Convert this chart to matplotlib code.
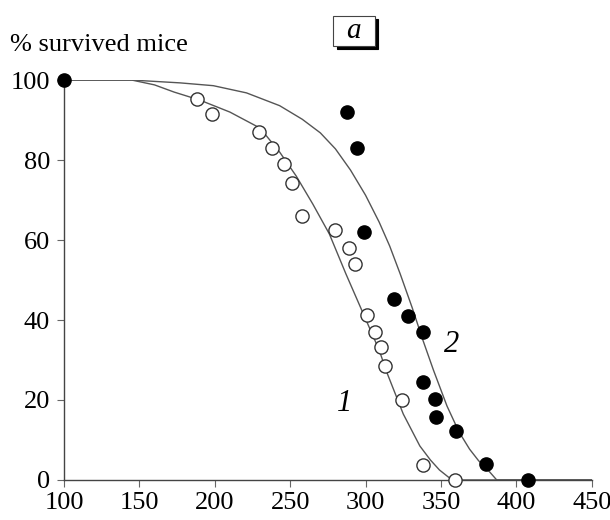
import matplotlib.pyplot as plt
from matplotlib.patches import Rectangle

plt.rcParams['font.family'] = 'Liberation Serif'

# open circles - curve 1
open_x = [188, 198, 229, 238, 246, 251, 258, 280, 289, 293, 301, 306, 310, 313, 324, 338, 359]
open_y = [95.3, 91.5, 87, 83, 79, 74.3, 66, 62.5, 58, 54, 41.3, 37, 33.3, 28.5, 20, 3.7, 0]

# filled circles - curve 2
filled_x = [100, 288, 294, 299, 319, 328, 338, 338, 346, 347, 360, 380, 408]
filled_y = [100, 92, 83, 62, 45.3, 41, 37, 24.4, 20.3, 15.8, 12.3, 4, 0]

# fitted curves
curve1_x = [100, 145, 160, 173, 190, 210, 230, 243, 254, 265, 276, 287, 298, 309, 314, 325, 336, 343, 349, 355, 359, 450]
curve1_y = [100, 100, 98.8, 97, 95, 92, 88, 82, 76, 69, 61.5, 51.5, 42, 32.5, 27, 16.5, 8.5, 5, 2.5, 0.7, 0, 0]
curve2_x = [100, 145, 177, 199, 221, 243, 258, 270, 280, 290, 300, 309, 316, 323, 331, 338, 345, 354, 362, 369, 375, 380, 387, 450]
curve2_y = [100, 100, 99.3, 98.6, 96.8, 93.6, 90.2, 86.8, 82.8, 77.5, 71.2, 64.5, 58.5, 51.5, 43, 35, 27.5, 18.5, 12, 7.7, 4.8, 3, 0, 0]

x_ticks = [100, 150, 200, 250, 300, 350, 400, 450]
y_ticks = [0, 20, 40, 60, 80, 100]

fig = plt.figure(figsize=(6.1, 5.2), dpi=100)
ax = fig.add_axes([0.105, 0.077, 0.865, 0.769])

ax.plot(curve1_x, curve1_y, color="#555555", linewidth=1.0)
ax.plot(curve2_x, curve2_y, color="#555555", linewidth=1.0)
ax.plot(open_x, open_y, "o", ms=9.5, mfc="white", mec="#333333", mew=1.0, clip_on=False, zorder=3)
ax.plot(filled_x, filled_y, "o", ms=9.5, mfc="black", mec="black", clip_on=False, zorder=3)

ax.set_xlim(100, 450)
ax.set_ylim(0, 100)
ax.set_xticks(x_ticks)
ax.set_yticks(y_ticks)
ax.tick_params(labelsize=19, length=5, width=0.8, color="#666666")
ax.tick_params(axis="x", pad=4)
ax.tick_params(axis="y", pad=5)
for s in ["top", "right"]:
    ax.spines[s].set_visible(False)
for s in ["left", "bottom"]:
    ax.spines[s].set_color("#444444")
    ax.spines[s].set_linewidth(1.0)

ax.text(286, 19, "1", fontsize=22, style="italic", ha="center", va="center")
ax.text(357, 34, "2", fontsize=22, style="italic", ha="center", va="center")

fig.text(0.016, 0.913, "% survived mice", fontsize=19, ha="left", va="center")

# panel label box with shadow
fig.patches.append(Rectangle((0.552, 0.905), 0.068, 0.058, transform=fig.transFigure,
                             fc="black", ec="black", lw=0.8))
fig.patches.append(Rectangle((0.546, 0.912), 0.068, 0.058, transform=fig.transFigure,
                             fc="white", ec="#444444", lw=0.8))
fig.text(0.580, 0.940, "a", fontsize=21, style="italic", ha="center", va="center")

fig.savefig("out.png", dpi=100)
